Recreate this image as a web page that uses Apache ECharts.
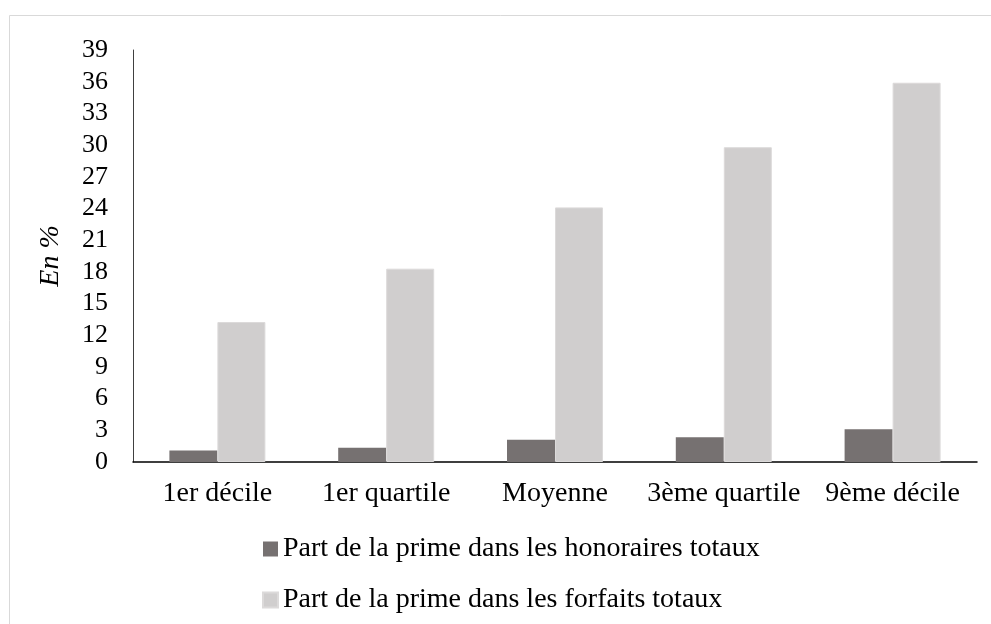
<!DOCTYPE html>
<html>
<head>
<meta charset="utf-8">
<script src="https://cdn.jsdelivr.net/npm/echarts@6/dist/echarts.min.js"></script>
<style>
html,body{margin:0;padding:0;background:#fff;}
#c{width:991px;height:624px;}
</style>
</head>
<body>
<div id="c"></div>
<script>
const categories = ["1er décile", "1er quartile", "Moyenne", "3ème quartile", "9ème décile"];
const seriesNames = ["Part de la prime dans les honoraires totaux", "Part de la prime dans les forfaits totaux"];
const honoraires = [1.1, 1.35, 2.1, 2.35, 3.1];
const forfaits = [13.25, 18.3, 24.1, 29.8, 35.9];
const yTicks = {min: 0, max: 39, interval: 3};

const FONT = "Liberation Serif";
const chart = echarts.init(document.getElementById('c'), null, {renderer: 'canvas'});
chart.setOption({
  animation: false,
  backgroundColor: '#fff',
  graphic: [{
    type: 'rect', silent: true,
    shape: {x: 9.5, y: 15.5, width: 1100, height: 800},
    style: {fill: 'none', stroke: '#d9d9d9', lineWidth: 1}
  }],
  grid: {left: 133, right: 14, top: 50, bottom: 162},
  legend: {
    orient: 'vertical', left: 262, top: 534, padding: 0,
    itemWidth: 15, itemHeight: 15, itemGap: 21, icon: 'rect',
    textStyle: {fontFamily: FONT, fontSize: 28, color: '#000', lineHeight: 30},
    data: seriesNames
  },
  xAxis: {
    type: 'category', data: categories,
    axisLine: {lineStyle: {color: '#000', width: 1.5}},
    axisTick: {show: false},
    axisLabel: {fontFamily: FONT, fontSize: 28, color: '#000', margin: 18, interval: 0}
  },
  yAxis: {
    type: 'value', min: yTicks.min, max: yTicks.max, interval: yTicks.interval,
    name: 'En %', nameLocation: 'middle', nameGap: 68,
    nameTextStyle: {fontFamily: FONT, fontSize: 28, fontStyle: 'italic', color: '#000'},
    axisLine: {show: true, lineStyle: {color: '#404040', width: 1}},
    axisTick: {show: false},
    splitLine: {show: false},
    axisLabel: {fontFamily: FONT, fontSize: 26, color: '#000', margin: 25}
  },
  series: [
    {name: seriesNames[0], type: 'bar', data: honoraires, barWidth: 48, barGap: '0%',
     itemStyle: {color: '#767171'}},
    {name: seriesNames[1], type: 'bar', data: forfaits, barWidth: 48, barGap: '0%',
     itemStyle: {color: '#d0cece', borderColor: '#dcdada', borderWidth: 1}}
  ]
});
</script>
</body>
</html>
